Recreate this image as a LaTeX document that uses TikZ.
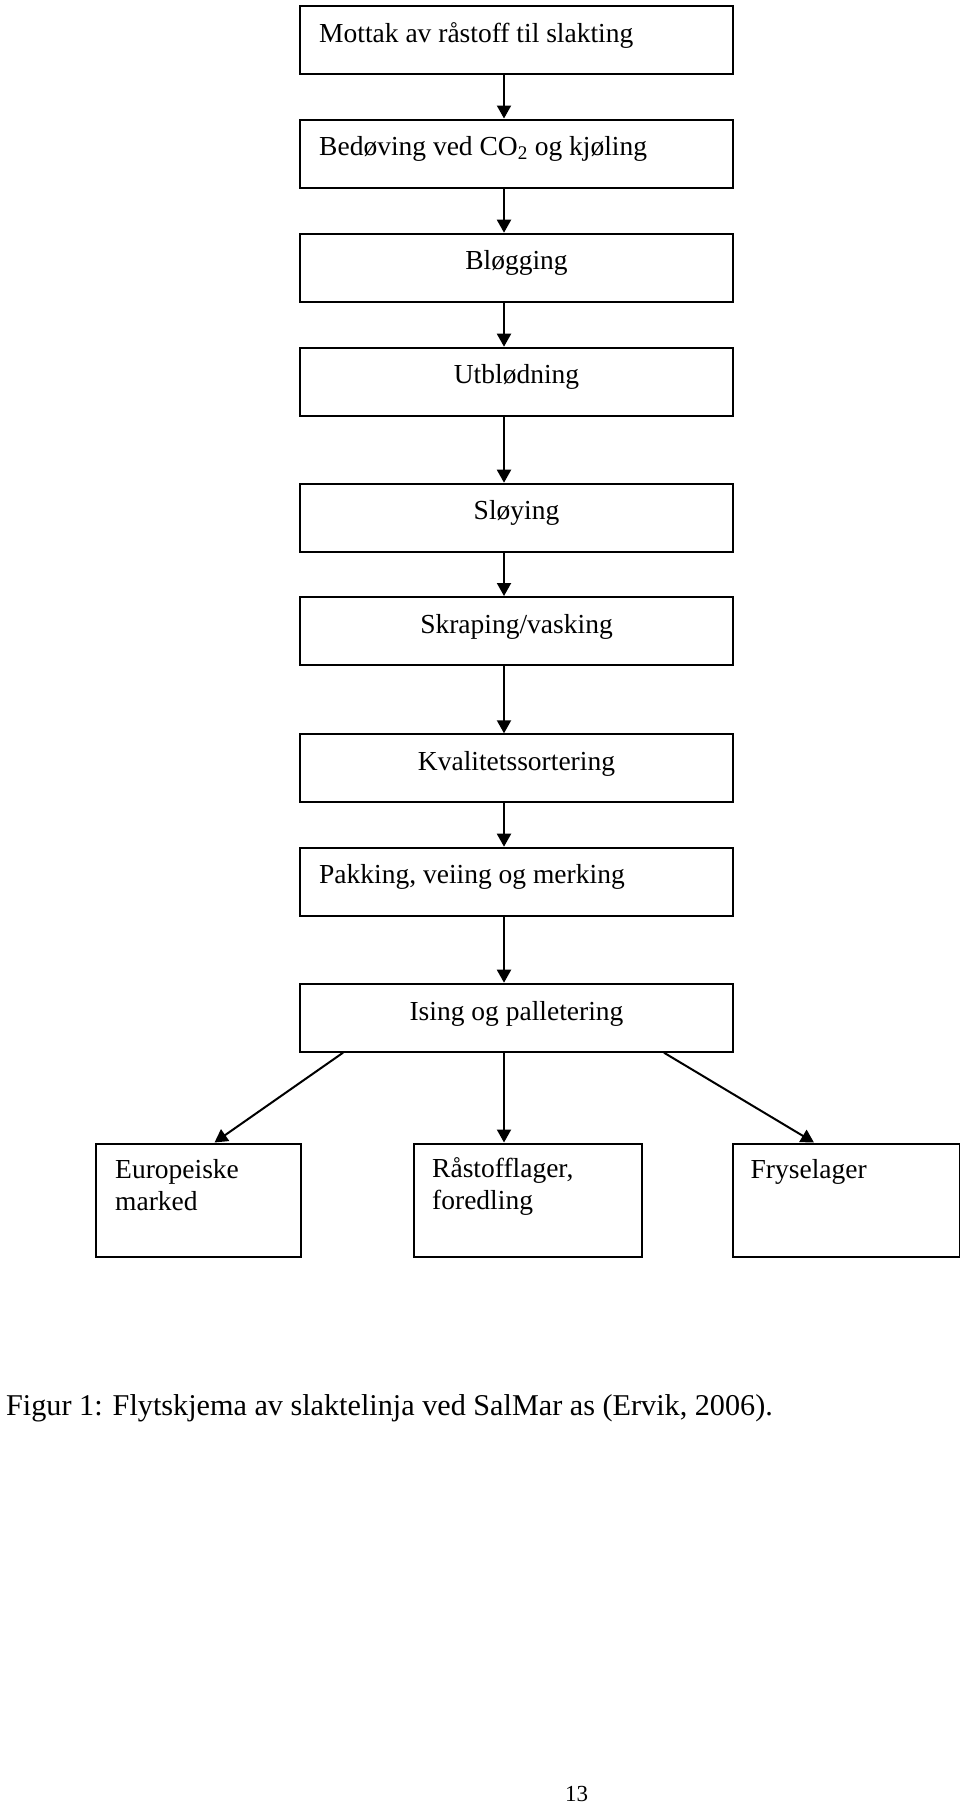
\documentclass[tikz,border=0pt]{standalone}
\usepackage{fontspec}
\setmainfont{Liberation Serif}
\usetikzlibrary{arrows.meta,calc}
\begin{document}
\begin{tikzpicture}[x=1pt,y=-1pt,
  box/.style={draw=black,line width=2pt,rectangle,inner sep=0pt,anchor=north west,fill=none},
  mainbox/.style={box,minimum width=433pt,minimum height=68pt},
  endbox/.style={box,minimum width=205pt,minimum height=113pt},
  txt/.style={inner sep=0pt,font=\fontsize{27.5}{32}\selectfont},
  arr/.style={line width=2pt,-{Triangle[width=14pt,length=13pt]}}]
\useasboundingbox (0,0) rectangle (960,1804);
\coordinate (ax) at (504,0);
% main boxes
\node[mainbox] (b1) at (299,5) {};
\node[mainbox] (b2) at (299,118.5) {};
\node[mainbox] (b3) at (299,232.7) {};
\node[mainbox] (b4) at (299,346.7) {};
\node[mainbox] (b5) at (299,482.7) {};
\node[mainbox] (b6) at (299,596) {};
\node[mainbox] (b7) at (299,733.3) {};
\node[mainbox] (b8) at (299,846.7) {};
\node[mainbox] (b9) at (299,982.7) {};
% end boxes
\node[endbox] (e1) at (95,1142.5) {};
\node[endbox,minimum width=228pt] (e2) at (413,1142.5) {};
\node[endbox,minimum width=227.5pt] (e3) at (731.5,1142.5) {};
% texts
\node[txt,anchor=base west] (t1) at ($(b1.north west)+(20,37)$) {Mottak av råstoff til slakting};
\node[txt,anchor=base west] (t2) at ($(b2.north west)+(20,37)$) {Bedøving ved CO\textsubscript{2} og kjøling};
\node[txt,anchor=base] (t3) at ($(b3.north)+(0,37)$) {Bløgging};
\node[txt,anchor=base] (t4) at ($(b4.north)+(0,37)$) {Utblødning};
\node[txt,anchor=base] (t5) at ($(b5.north)+(0,37)$) {Sløying};
\node[txt,anchor=base] (t6) at ($(b6.north)+(0,37)$) {Skraping/vasking};
\node[txt,anchor=base] (t7) at ($(b7.north)+(0,37)$) {Kvalitetssortering};
\node[txt,anchor=base west] (t8) at ($(b8.north west)+(20,37)$) {Pakking, veiing og merking};
\node[txt,anchor=base] (t9) at ($(b9.north)+(0,38)$) {Ising og palletering};
\node[txt,anchor=base west,align=left] (te1) at ($(e1.north west)+(20,67.5)$) {Europeiske\\marked};
\node[txt,anchor=base west,align=left] (te2) at ($(e2.north west)+(19,66.5)$) {Råstofflager,\\foredling};
\node[txt,anchor=base west] (te3) at ($(e3.north west)+(19,35.5)$) {Fryselager};
% arrows
\draw[arr] (b1.south -| ax) -- (b2.north -| ax);
\draw[arr] (b2.south -| ax) -- (b3.north -| ax);
\draw[arr] (b3.south -| ax) -- (b4.north -| ax);
\draw[arr] (b4.south -| ax) -- (b5.north -| ax);
\draw[arr] (b5.south -| ax) -- (b6.north -| ax);
\draw[arr] (b6.south -| ax) -- (b7.north -| ax);
\draw[arr] (b7.south -| ax) -- (b8.north -| ax);
\draw[arr] (b8.south -| ax) -- (b9.north -| ax);
\draw[arr] (b9.south -| ax) -- (e2.north -| ax);
\draw[arr] ($(b9.south west)+(44,0)$) -- ($(e1.north west)+(119.5,0)$);
\draw[arr] ($(b9.south west)+(365,0)$) -- ($(e3.north west)+(82.5,0)$);
% caption and page number
\node[inner sep=0pt,anchor=base west,font=\fontsize{30.2}{36}\selectfont] (cap) at (6,1415.5) {Figur 1: Flytskjema av slaktelinja ved SalMar as (Ervik, 2006).};
\node[inner sep=0pt,anchor=base,font=\fontsize{23}{28}\selectfont] (pg) at (576.5,1801.5) {13};
\end{tikzpicture}
\end{document}
